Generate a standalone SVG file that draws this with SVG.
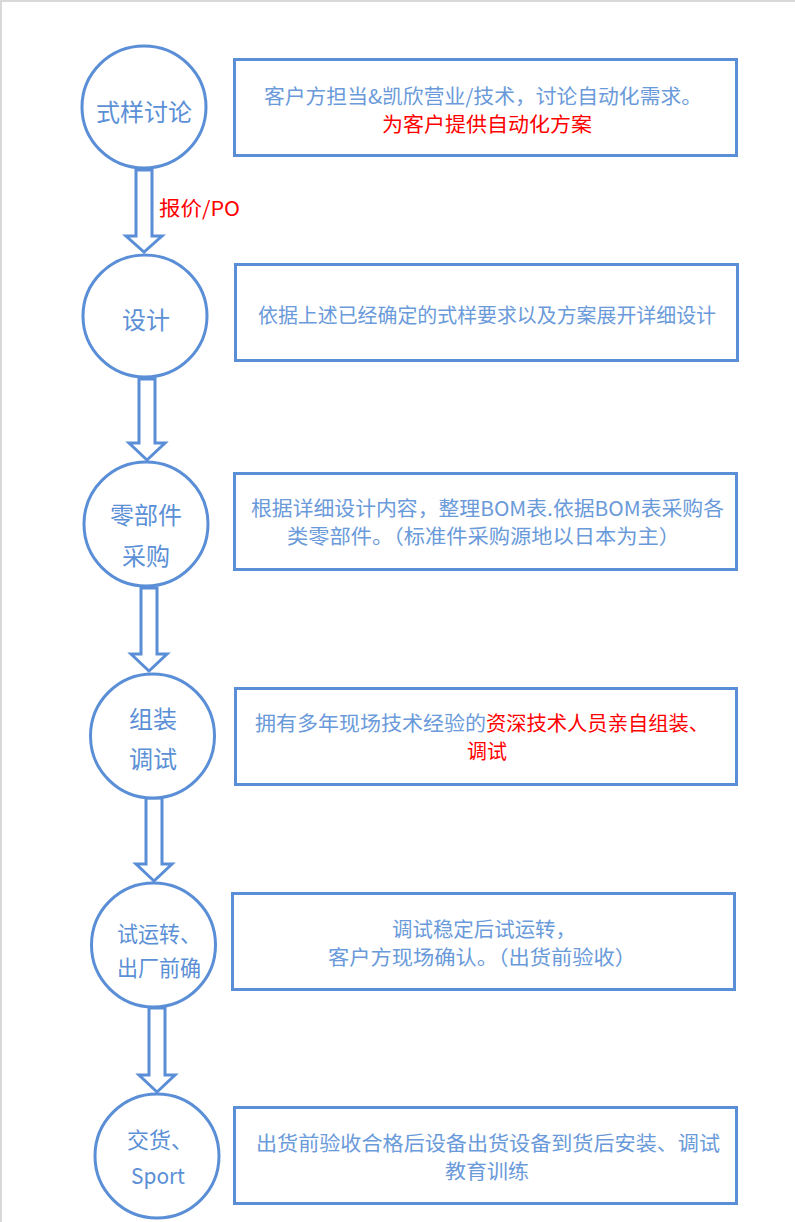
<svg xmlns="http://www.w3.org/2000/svg" width="795" height="1222" viewBox="0 0 795 1222">
<style>
.n{fill:#fff;stroke:#5A8ED6;stroke-width:3}
.b{fill:#fff;stroke:#5A8ED6;stroke-width:3}
.a{fill:#fff;stroke:#5A8ED6;stroke-width:3;stroke-linejoin:miter}
text{font-family:"Noto Sans CJK SC","Liberation Sans",sans-serif;dominant-baseline:central}
.ct{font-size:23px;fill:#5B90D6;text-anchor:middle}
.cl{font-size:22px;fill:#5B90D6}
.bt{font-size:20px;fill:#6A9ADA}
.r{fill:#FF0000}
</style>
<rect x="0" y="0" width="795" height="1222" fill="#fff"/>
<path d="M1 1222V1H795" fill="none" stroke="#d9d9d9" stroke-width="2"/>
<g id="connectors">
<polygon class="a" points="136,170 152,170 152,236 162,236 144,252 126,236 136,236"/>
<text x="159" y="207" class="r" style="font-size:20px" textLength="81" lengthAdjust="spacingAndGlyphs">报价/PO</text>
<polygon class="a" points="139,379 155,379 155,443 165,443 147,460 129,443 139,443"/>
<polygon class="a" points="141,588 157,588 157,654 167,654 149,671 131,654 141,654"/>
<polygon class="a" points="146,798 162,798 162,864 172,864 154,881 136,864 146,864"/>
<polygon class="a" points="149,1008 165,1008 165,1075 175,1075 157,1092 139,1075 149,1075"/>
</g>
<g id="n1">
<ellipse class="n" cx="144" cy="107" rx="62" ry="61"/>
<text class="ct" x="144" y="110" style="font-size:24px">式样讨论</text>
</g>
<g id="b1">
<rect class="b" x="234.5" y="59.5" width="502" height="96"/>
<text class="bt" x="264" y="95" textLength="438" lengthAdjust="spacingAndGlyphs">客户方担当&amp;凯欣营业/技术，讨论自动化需求。</text>
<text class="bt r" x="382" y="123" textLength="210" lengthAdjust="spacingAndGlyphs">为客户提供自动化方案</text>
</g>
<g id="n2">
<ellipse class="n" cx="145" cy="316" rx="62" ry="61"/>
<text class="ct" x="146" y="318" style="font-size:24px">设计</text>
</g>
<g id="b2">
<rect class="b" x="235.5" y="264.5" width="502" height="96"/>
<text class="bt" x="258" y="314" textLength="458" lengthAdjust="spacingAndGlyphs">依据上述已经确定的式样要求以及方案展开详细设计</text>
</g>
<g id="n3">
<ellipse class="n" cx="146" cy="524" rx="62" ry="62"/>
<text class="ct" x="146" y="513" style="font-size:24px">零部件</text>
<text class="ct" x="146" y="554" style="font-size:24px">采购</text>
</g>
<g id="b3">
<rect class="b" x="234.5" y="473.5" width="502" height="96"/>
<text class="bt" x="251" y="507" textLength="473" lengthAdjust="spacingAndGlyphs">根据详细设计内容，整理BOM表.依据BOM表采购各</text>
<text class="bt" x="287" y="535" textLength="393" lengthAdjust="spacingAndGlyphs">类零部件。（标准件采购源地以日本为主）</text>
</g>
<g id="n4">
<ellipse class="n" cx="152.5" cy="736" rx="62" ry="62"/>
<text class="ct" x="153" y="717" style="font-size:24px">组装</text>
<text class="ct" x="153" y="757" style="font-size:24px">调试</text>
</g>
<g id="b4">
<rect class="b" x="235.5" y="688.5" width="501" height="96"/>
<text class="bt" x="255" y="722" textLength="231" lengthAdjust="spacingAndGlyphs">拥有多年现场技术经验的</text>
<text class="bt r" x="486" y="722" textLength="223" lengthAdjust="spacingAndGlyphs">资深技术人员亲自组装、</text>
<text class="bt r" x="467" y="750" textLength="40" lengthAdjust="spacingAndGlyphs">调试</text>
</g>
<g id="n5">
<ellipse class="n" cx="153.5" cy="945" rx="62" ry="62"/>
<text class="cl" x="117" y="932" textLength="84" lengthAdjust="spacingAndGlyphs">试运转、</text>
<text class="cl" x="117" y="966" textLength="84" lengthAdjust="spacingAndGlyphs">出厂前确</text>
</g>
<g id="b5">
<rect class="b" x="232.5" y="893.5" width="502" height="96"/>
<text class="bt" x="392" y="928" textLength="184" lengthAdjust="spacingAndGlyphs">调试稳定后试运转，</text>
<text class="bt" x="328" y="956" textLength="308" lengthAdjust="spacingAndGlyphs">客户方现场确认。（出货前验收）</text>
</g>
<g id="n6">
<ellipse class="n" cx="157" cy="1156" rx="62" ry="62"/>
<text class="cl" x="127" y="1138">交货、</text>
<text class="cl" x="131" y="1174" textLength="54" lengthAdjust="spacingAndGlyphs">Sport</text>
</g>
<g id="b6">
<rect class="b" x="234.5" y="1107.5" width="502" height="96"/>
<text class="bt" x="256" y="1142" textLength="464" lengthAdjust="spacingAndGlyphs">出货前验收合格后设备出货设备到货后安装、调试</text>
<text class="bt" x="445" y="1170" textLength="84" lengthAdjust="spacingAndGlyphs">教育训练</text>
</g>
</svg>
